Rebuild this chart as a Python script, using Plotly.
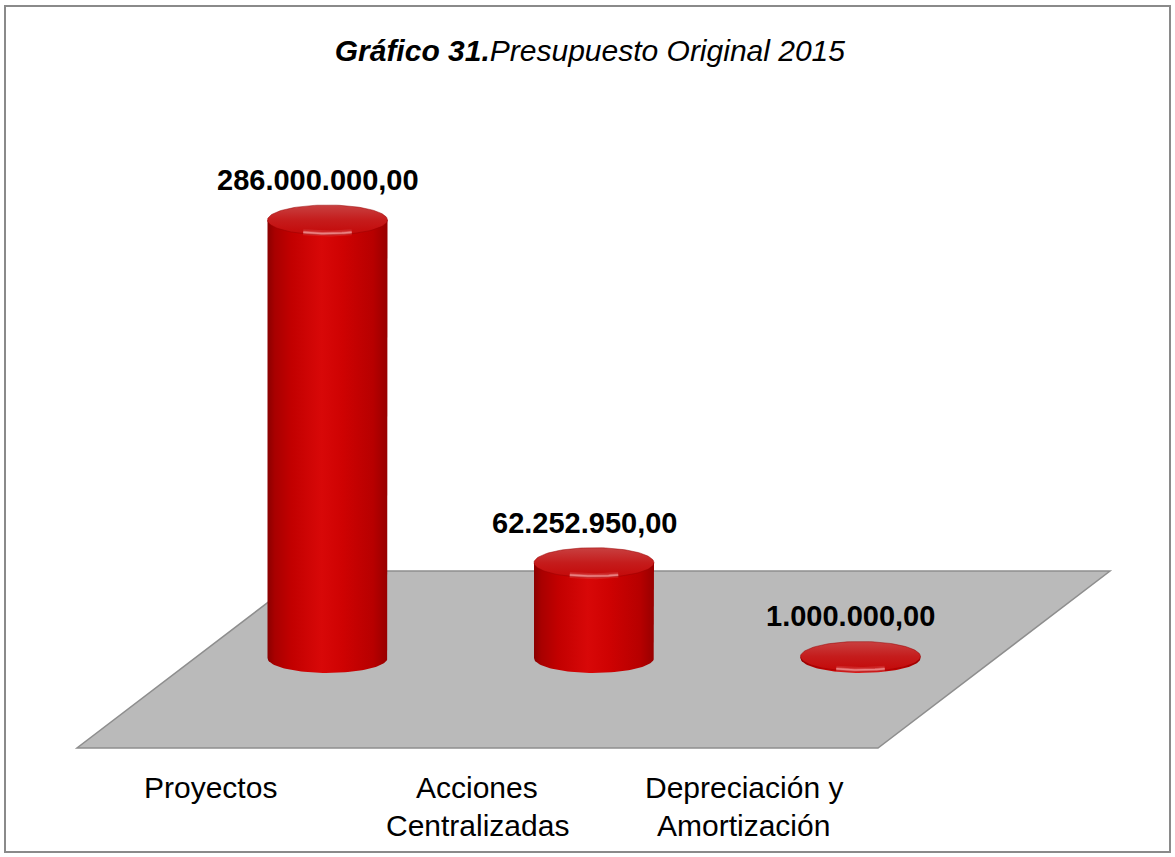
import numpy as np
import plotly.graph_objects as go

# ---- data -------------------------------------------------------------
categories = ["Proyectos", "Acciones<br>Centralizadas", "Depreciación y<br>Amortización"]
values = [286000000.00, 62252950.00, 1000000.00]
title_bold = "Gráfico 31."
title_rest = "Presupuesto Original 2015"

# ---- page geometry ----------------------------------------------------
W, H = 1175, 857
FONT = "Liberation Sans, Arial, sans-serif"

# Column centres sit at category index 0,1,2; y axis is in currency units.
X0_PX, DX_PX = 327.5, 266.5          # pixel centre of first column, spacing
BASE_PX = 658.0                      # pixel row of the column bases
PX_PER_UNIT = 438.0 / 286e6          # vertical pixels per currency unit
x_range = [(0 - X0_PX) / DX_PX, (W - X0_PX) / DX_PX]
y_range = [(BASE_PX - H) / PX_PER_UNIT, BASE_PX / PX_PER_UNIT]

RX = 60 / DX_PX                      # cylinder radius in x-axis units
RY = 15 / PX_PER_UNIT                # ellipse half-height in y-axis units


def fmt_es(v):
    s = f"{v:,.2f}"
    return s.replace(",", "_").replace(".", ",").replace("_", ".")


def px_to_paper(px, py):
    return px / W, 1 - py / H


fig = go.Figure()

body_scale = [[0.0, "#8a0000"], [0.06, "#a80000"], [0.2, "#c20000"],
              [0.45, "#d80808"], [0.62, "#cf0202"], [0.88, "#b70000"],
              [1.0, "#980000"]]
top_scale = [[0.0, "#c40808"], [0.5, "#c51c1c"], [1.0, "#c84040"]]

t_front = np.linspace(2 * np.pi, np.pi, 60)     # front half of an ellipse (right -> left)
t_full = np.linspace(0, 2 * np.pi, 120)

for i, v in enumerate(values):
    c = i
    # cylinder side
    bx = [c - RX, c - RX, c + RX, c + RX] + list(c + RX * np.cos(t_front))
    by = [0, v, v, 0] + list(RY * np.sin(t_front))
    fig.add_trace(go.Scatter(
        x=bx, y=by, mode="lines", fill="toself", line=dict(width=0),
        fillgradient=dict(type="horizontal", colorscale=body_scale),
        hoverinfo="skip", showlegend=False))
    # cylinder cap
    fig.add_trace(go.Scatter(
        x=list(c + RX * np.cos(t_full)), y=list(v + RY * np.sin(t_full)),
        mode="lines", fill="toself", line=dict(width=0.8, color="rgba(150,0,0,0.6)"),
        fillgradient=dict(type="vertical", colorscale=top_scale),
        hoverinfo="skip", showlegend=False))
    # soft highlight along the front rim of the cap
    for w, a, s in [(6, 0.12, 0.95), (3, 0.25, 0.95), (1.5, 0.45, 0.95)]:
        th = np.linspace(1.36 * np.pi, 1.64 * np.pi, 30)
        fig.add_trace(go.Scatter(
            x=list(c + s * RX * np.cos(th)), y=list(v + 0.9 * RY * np.sin(th)),
            mode="lines", line=dict(width=w, color=f"rgba(255,200,200,{a})"),
            hoverinfo="skip", showlegend=False))
    # value label above the column
    fig.add_annotation(
        x=c, y=v, xref="x", yref="y", text=f"<b>{fmt_es(v)}</b>",
        showarrow=False, xshift=-10, yshift=40, yanchor="middle",
        font=dict(family=FONT, size=29, color="#000000"))
    # category label along the front edge of the floor
    for k, line in enumerate(categories[i].split("<br>")):
        fig.add_annotation(
            x=c, xref="x", y=1 - (787 + 38 * k) / H, yref="paper",
            text=line, showarrow=False, xshift=-117, yanchor="middle",
            font=dict(family=FONT, size=30, color="#000000"))

# floor of the chart
floor_px = [(77, 748), (878, 748), (1110, 571), (309, 571)]
pts = [px_to_paper(*p) for p in floor_px]
path = "M " + " L ".join(f"{x:.5f},{y:.5f}" for x, y in pts) + " Z"
floor = dict(type="path", path=path, xref="paper", yref="paper",
             fillcolor="#bababa", line=dict(color="#8e8e8e", width=1.5),
             layer="below")

# outer frame
fx0, fy0 = px_to_paper(5, 6)
fx1, fy1 = px_to_paper(1170, 852)
frame = dict(type="rect", xref="paper", yref="paper", x0=fx0, y0=fy1, x1=fx1, y1=fy0,
             line=dict(color="#8a8a8a", width=2), fillcolor="rgba(0,0,0,0)",
             layer="above")

fig.update_layout(
    width=W, height=H,
    margin=dict(l=0, r=0, t=0, b=0),
    paper_bgcolor="#ffffff", plot_bgcolor="#ffffff",
    xaxis=dict(range=x_range, visible=False, fixedrange=True),
    yaxis=dict(range=y_range, visible=False, fixedrange=True),
    shapes=[floor, frame],
    title=dict(
        text=f"<b><i>{title_bold}</i></b><i>{title_rest}</i>",
        x=0.502, xanchor="center", y=1 - 50 / H, yanchor="middle",
        font=dict(family=FONT, size=30, color="#000000")),
    showlegend=False,
)

fig.write_html("out.html")
